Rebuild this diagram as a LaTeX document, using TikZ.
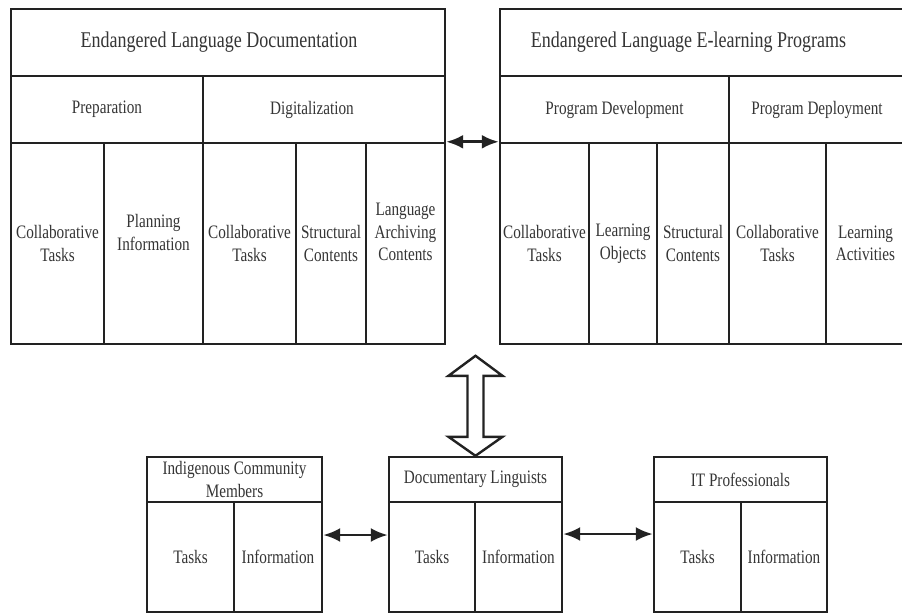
\documentclass[tikz,border=0pt]{standalone}
\usepackage{fontspec}
\setmainfont{Liberation Serif}[FakeStretch=0.8]
\usetikzlibrary{arrows.meta,calc}
\definecolor{linec}{HTML}{222222}
\definecolor{textc}{HTML}{353535}
\newcommand{\cellbox}[7][cell]{%
  \pgfmathsetmacro{\cbx}{(#3+#5)/2}%
  \pgfmathsetmacro{\cby}{(#4+#6)/2}%
  \pgfmathsetmacro{\cbw}{#5-#3}%
  \pgfmathsetmacro{\cbh}{#6-#4}%
  \node[#1,minimum width=\cbw pt,minimum height=\cbh pt] (#2) at (\cbx,\cby) {#7};}
\begin{document}
\begin{tikzpicture}[x=1pt,y=-1pt,
  basecell/.style={draw=linec, line width=2.4pt, inner sep=0pt, text=textc},
  cell/.style={basecell, align=center, font=\fontsize{19}{22.5}\selectfont},
  bigcell/.style={basecell, font=\fontsize{22.5}{26}\selectfont},
  link/.style={draw=linec, line width=2.8pt, {Latex[length=17pt,width=14pt]}-{Latex[length=17pt,width=14pt]}},
  hollow/.style={draw=linec, line width=2.4pt, fill=white, line join=miter}]
\fill[white] (0,0) rectangle (902,614);
\useasboundingbox (0,0) rectangle (902,614);
% left block
\cellbox[bigcell]{LT}{11}{9}{445}{76}{Endangered Language Documentation\kern18pt}
\cellbox{LP}{11}{76}{203}{143}{Preparation}
\cellbox{LD}{203}{76}{445}{143}{Digitalization\kern24pt}
\cellbox{L1}{11}{143}{104}{344}{Collaborative\\Tasks}
\cellbox{L2}{104}{143}{203}{344}{Planning\\Information\\\mbox{}}
\cellbox{L3}{203}{143}{296}{344}{Collaborative\\Tasks}
\cellbox{L4}{296}{143}{366}{344}{Structural\\Contents}
\cellbox{L5}{366}{143}{445}{344}{Language\\Archiving\\Contents\\\mbox{}}
% right block
\cellbox[bigcell]{RT}{500}{9}{905}{76}{Endangered Language E-learning Programs\kern28pt}
\cellbox{RDv}{500}{76}{729}{143}{Program Development}
\cellbox{RDp}{729}{76}{905}{143}{Program Deployment}
\cellbox{R1}{500}{143}{589}{344}{Collaborative\\Tasks}
\cellbox{R2}{589}{143}{657}{344}{Learning\\Objects}
\cellbox{R3}{657}{143}{729}{344}{Structural\\Contents}
\cellbox{R4}{729}{143}{826}{344}{Collaborative\\Tasks}
\cellbox{R5}{826}{143}{905}{344}{Learning\\Activities}
% bottom boxes
\cellbox{ICT}{147}{457}{322}{502}{Indigenous Community\\Members}
\cellbox{IC1}{147}{502}{234}{612}{Tasks}
\cellbox{IC2}{234}{502}{322}{612}{Information}
\cellbox{DLT}{389}{457}{562}{502}{Documentary Linguists}
\cellbox{DL1}{389}{502}{475}{612}{Tasks}
\cellbox{DL2}{475}{502}{562}{612}{Information}
\cellbox{ITT}{654}{457}{827}{502}{IT Professionals}
\cellbox{IT1}{654}{502}{741}{612}{Tasks}
\cellbox{IT2}{741}{502}{827}{612}{Information}
% connectors
\draw[link] (L5.north east) -- (R1.north west);
\draw[link] ([yshift=22pt]IC2.east) -- ([yshift=22pt]DL1.west);
\draw[link] ([yshift=23pt]DL2.east) -- ([yshift=23pt]IT1.west);
% hollow double arrow
\coordinate (hb) at (DLT.north);
\coordinate (ht) at ($(DLT.north)+(0,-100)$);
\draw[hollow] (ht) -- ++(27,20) -- ++(-19,0) -- ++(0,61) -- ++(19,0) -- (hb)
  -- ++(-27,-19) -- ++(19,0) -- ++(0,-61) -- ++(-19,0) -- cycle;
\end{tikzpicture}
\end{document}
